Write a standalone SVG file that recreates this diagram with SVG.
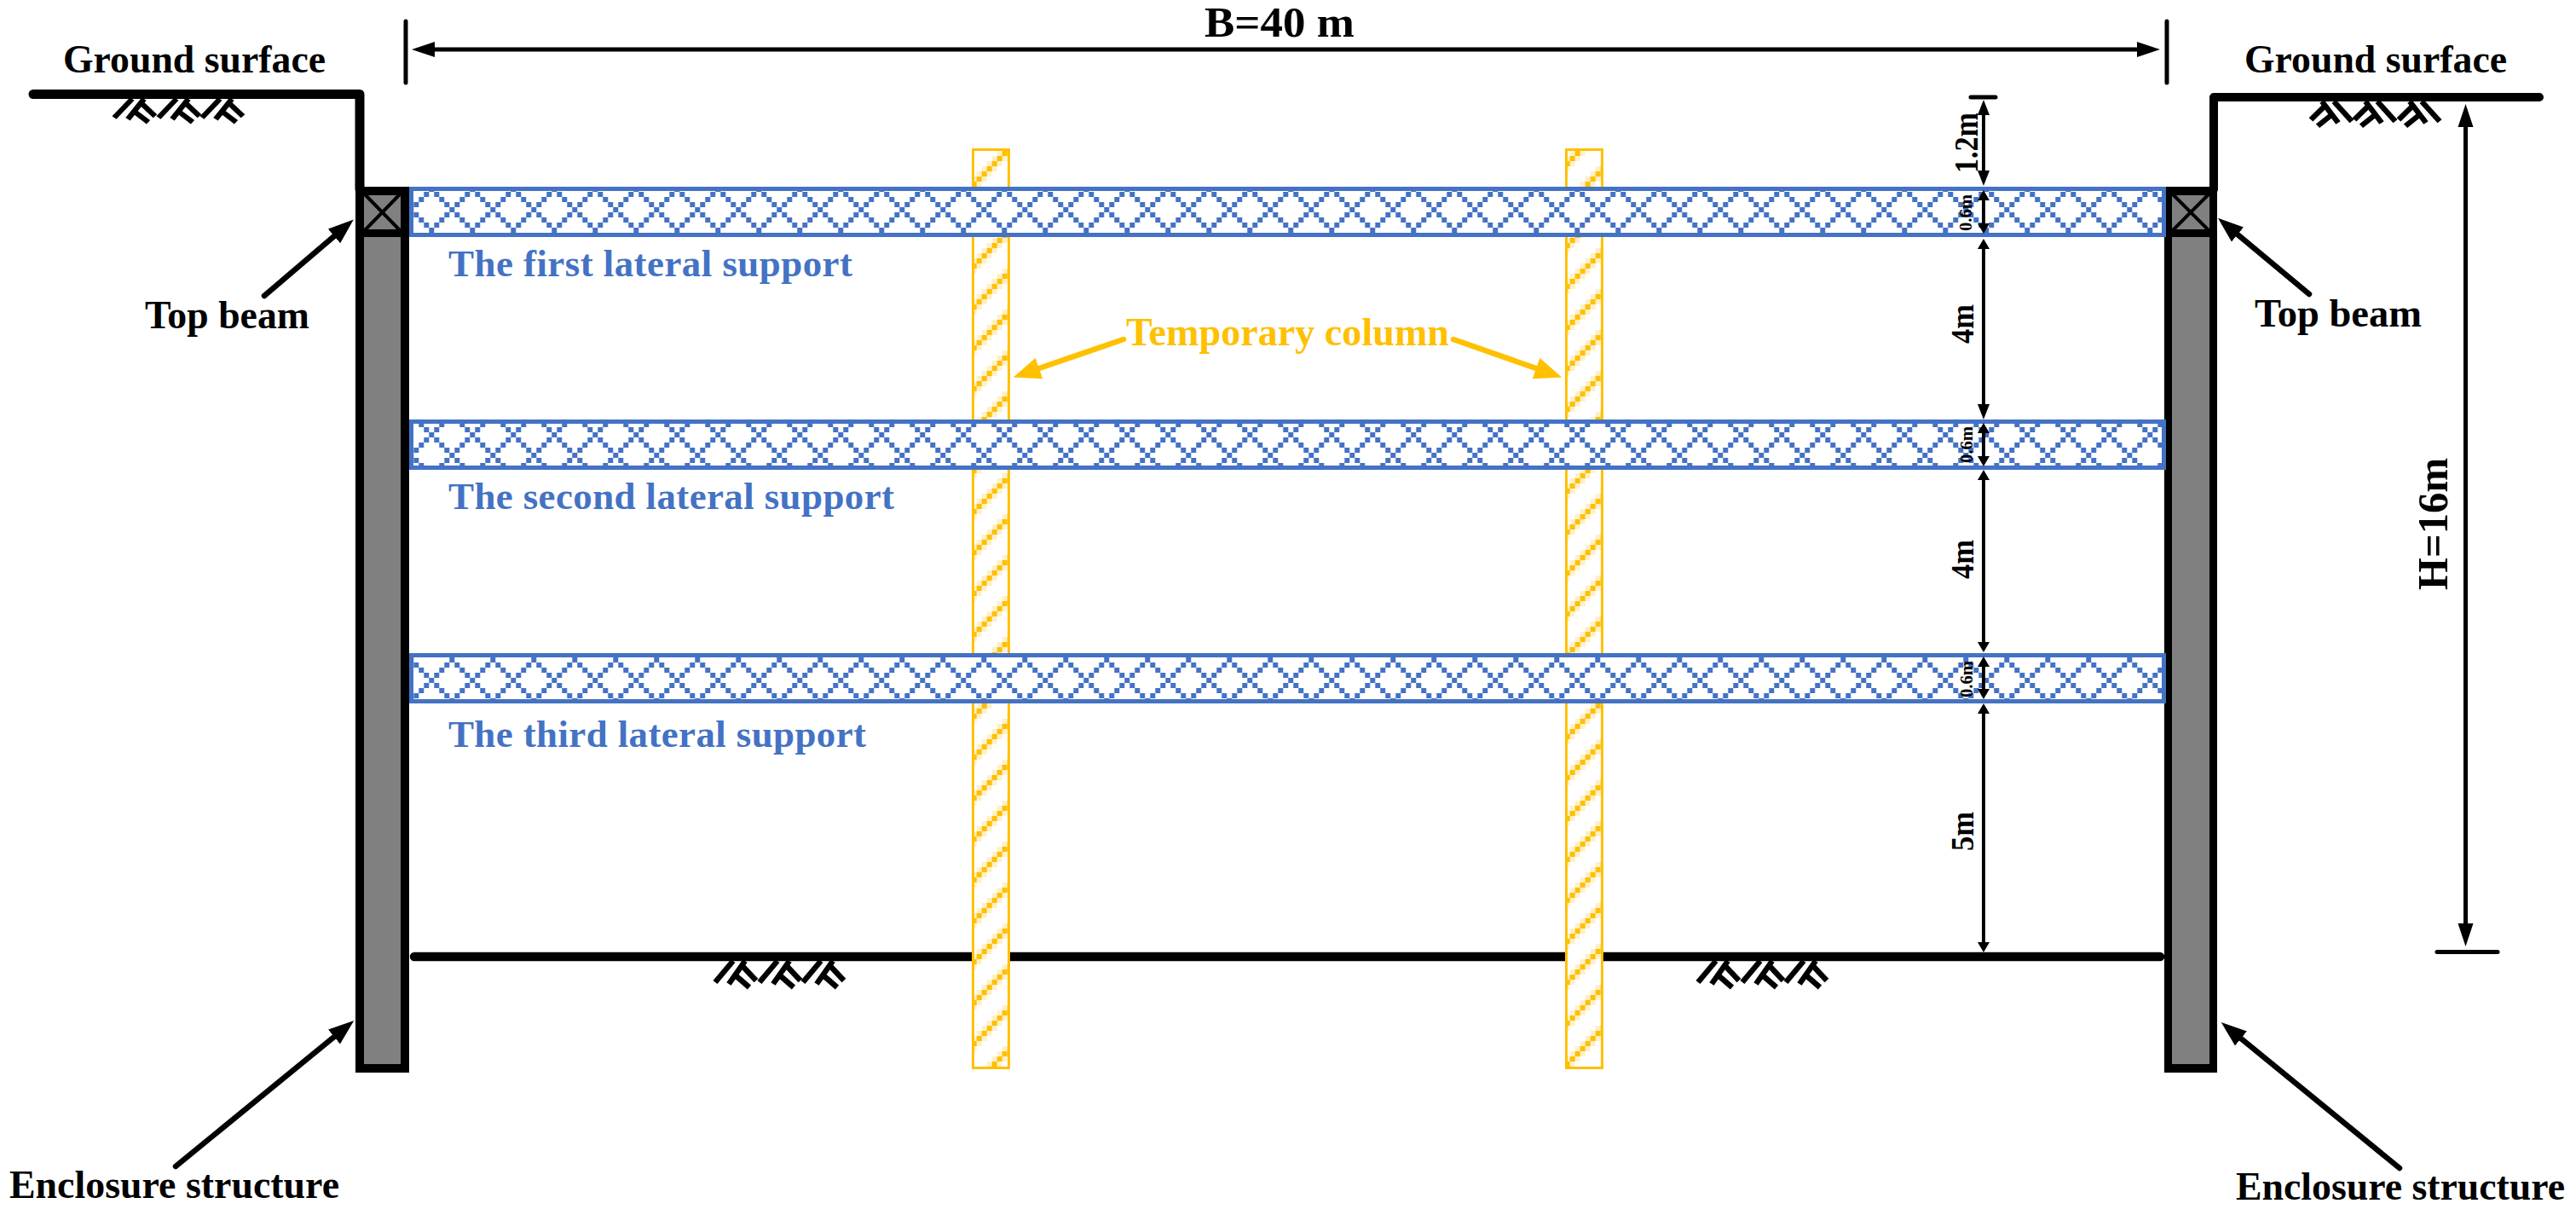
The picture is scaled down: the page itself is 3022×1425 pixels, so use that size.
<svg xmlns="http://www.w3.org/2000/svg" xmlns:xlink="http://www.w3.org/1999/xlink" width="3022" height="1425" viewBox="0 0 3022 1425">
<style>
text{font-family:"Liberation Serif","Times New Roman",serif;font-weight:700}
.lbl{font-size:46px;fill:#000}
.big{font-size:50px;fill:#000}
.blue{font-size:45px;fill:#4472C4}
.yel{font-size:46px;fill:#FFC000}
.d1{font-size:40px;fill:#000}
.d2{font-size:38px;fill:#000}
.d3{font-size:22px;fill:#000}
.wall{fill:#808080;stroke:none}
.blk{fill:#000;stroke:none}
.ground{fill:none;stroke:#000;stroke-linecap:round;stroke-linejoin:round}
.band{fill:url(#lattice)}
.band-edge{fill:none;stroke:#4472C4;stroke-width:5}
.col{fill:url(#stripe)}
.col-edge{fill:none;stroke:#FFC000;stroke-width:3}
.ln{stroke:#000;fill:none;stroke-linecap:round}
.dim{stroke-width:4;stroke-linecap:butt;marker-start:url(#mDim);marker-end:url(#mDim)}
.call{stroke-width:6.5;marker-end:url(#mCall)}
.ycall{stroke:#FFC000;fill:none;stroke-width:6.5;stroke-linecap:round;marker-end:url(#mYel)}
.hl{stroke:#000;stroke-width:6.5}
</style>
<defs>
<pattern id="lattice" patternUnits="userSpaceOnUse" width="48" height="48" patternTransform="translate(-0.7 3)">
<rect width="48" height="48" fill="#fff"/>
<path fill="#4472C4" shape-rendering="crispEdges" d="M0.4 0.4h5.2v5.2h-5.2zM6.4 6.4h5.2v5.2h-5.2zM12.4 12.4h5.2v5.2h-5.2zM18.4 18.4h5.2v5.2h-5.2zM24.4 24.4h5.2v5.2h-5.2zM30.4 30.4h5.2v5.2h-5.2zM36.4 36.4h5.2v5.2h-5.2zM42.4 42.4h5.2v5.2h-5.2zM6.4 42.4h5.2v5.2h-5.2zM12.4 36.4h5.2v5.2h-5.2zM18.4 30.4h5.2v5.2h-5.2zM30.4 18.4h5.2v5.2h-5.2zM36.4 12.4h5.2v5.2h-5.2zM42.4 6.4h5.2v5.2h-5.2z"/>
</pattern>
<pattern id="stripe" patternUnits="userSpaceOnUse" width="48" height="48" patternTransform="translate(11.7 3)">
<rect width="48" height="48" fill="#fff"/>
<path fill="#FFF0C8" shape-rendering="crispEdges" d="M0 36h6v6h-6zM6 30h6v6h-6zM12 24h6v6h-6zM18 18h6v6h-6zM24 12h6v6h-6zM30 6h6v6h-6zM36 0h6v6h-6zM42 42h6v6h-6zM0 0h6v6h-6zM6 42h6v6h-6zM12 36h6v6h-6zM18 30h6v6h-6zM24 24h6v6h-6zM30 18h6v6h-6zM36 12h6v6h-6zM42 6h6v6h-6z"/>
<path fill="#FFC000" shape-rendering="crispEdges" d="M0 42h6v6h-6zM6 36h6v6h-6zM12 30h6v6h-6zM18 24h6v6h-6zM24 18h6v6h-6zM30 12h6v6h-6zM36 6h6v6h-6zM42 0h6v6h-6z"/>
</pattern>
<marker id="mDim" markerUnits="userSpaceOnUse" markerWidth="19" markerHeight="15" refX="0" refY="7.5" orient="auto-start-reverse"><path d="M0 0.5L18 7.5L0 14.5z" fill="#000"/></marker>
<marker id="mSm" markerUnits="userSpaceOnUse" markerWidth="13" markerHeight="15" refX="0" refY="7.5" orient="auto-start-reverse"><path d="M0 0.5L12 7.5L0 14.5z" fill="#000"/></marker>
<marker id="mBig" markerUnits="userSpaceOnUse" markerWidth="28" markerHeight="19" refX="0" refY="9.5" orient="auto-start-reverse"><path d="M0 0.5L27 9.5L0 18.5z" fill="#000"/></marker>
<marker id="mCall" markerUnits="userSpaceOnUse" markerWidth="32" markerHeight="24" refX="0" refY="12" orient="auto"><path d="M0 1L30 12L0 23z" fill="#000"/></marker>
<marker id="mYel" markerUnits="userSpaceOnUse" markerWidth="34" markerHeight="28" refX="0" refY="14" orient="auto"><path d="M0 1L32 14L0 27z" fill="#FFC000"/></marker>
<g id="hatchUnit">
<line class="hl" x1="0" y1="0" x2="-21" y2="25"/><line class="hl" x1="14" y1="0" x2="-5" y2="27"/><line class="hl" x1="11" y1="6" x2="27" y2="23"/><line class="hl" x1="4" y1="18" x2="19" y2="31"/>
</g>
<g id="hatch">
<use xlink:href="#hatchUnit" href="#hatchUnit"/><use xlink:href="#hatchUnit" href="#hatchUnit" x="52"/><use xlink:href="#hatchUnit" href="#hatchUnit" x="103"/>
</g>
</defs>
<rect width="3022" height="1425" fill="#fff"/>

<g id="ground-left">
<path class="ground" stroke-width="11" d="M39 110.5H422V222"/>
<use xlink:href="#hatch" href="#hatch" transform="translate(155 116) scale(1 .88)"/>
<text class="lbl" x="74" y="85" textLength="308" lengthAdjust="spacingAndGlyphs">Ground surface</text>
</g>
<g id="ground-right">
<path class="ground" stroke-width="10" d="M2979 114H2597V222"/>
<use xlink:href="#hatch" href="#hatch" transform="translate(2841 119) scale(-1 .93)"/>
<text class="lbl" x="2633" y="85" textLength="308" lengthAdjust="spacingAndGlyphs">Ground surface</text>
</g>
<g id="excavation-floor">
<line class="ground" stroke-width="10.5" x1="486" y1="1122" x2="2534" y2="1122"/>
<use xlink:href="#hatch" href="#hatch" transform="translate(860 1127)"/>
<use xlink:href="#hatch" href="#hatch" transform="translate(2013 1127)"/>
</g>
<g id="wall-left">
<rect class="blk" x="417" y="219" width="63" height="1039"/>
<rect class="wall" x="427" y="278" width="43" height="970"/>
</g>
<g id="wall-right">
<rect class="blk" x="2539" y="219" width="62" height="1039"/>
<rect class="wall" x="2548" y="278" width="44" height="970"/>
</g>
<g id="top-beam-left">
<rect class="wall" x="427" y="229" width="43" height="40"/>
<path class="ln" stroke-width="4" stroke-linecap="butt" d="M429 229L468 269M468 229L429 269"/>
<text class="lbl" x="170" y="385" textLength="193" lengthAdjust="spacingAndGlyphs">Top beam</text>
</g>
<g id="top-beam-right">
<rect class="wall" x="2548" y="229" width="44" height="40"/>
<path class="ln" stroke-width="4" stroke-linecap="butt" d="M2550 229L2590 269M2590 229L2550 269"/>
<text class="lbl" x="2645" y="383" textLength="196" lengthAdjust="spacingAndGlyphs">Top beam</text>
</g>
<g id="column-1">
<rect class="col" x="1141.5" y="175.5" width="42" height="1077"/>
<rect class="col-edge" x="1141.5" y="175.5" width="42" height="1077"/>
</g>
<g id="column-2">
<rect class="col" x="1837.5" y="175.5" width="42" height="1077"/>
<rect class="col-edge" x="1837.5" y="175.5" width="42" height="1077"/>
</g>
<g id="support-1">
<rect class="band" x="482.5" y="221.5" width="2056" height="54"/>
<rect class="band-edge" x="482.5" y="221.5" width="2056" height="54"/>
<text class="blue" x="526" y="324" textLength="474" lengthAdjust="spacing">The first lateral support</text>
</g>
<g id="support-2">
<rect class="band" x="482.5" y="494.5" width="2056" height="54"/>
<rect class="band-edge" x="482.5" y="494.5" width="2056" height="54"/>
<text class="blue" x="526" y="597" textLength="523" lengthAdjust="spacing">The second lateral support</text>
</g>
<g id="support-3">
<rect class="band" x="482.5" y="768.5" width="2056" height="54"/>
<rect class="band-edge" x="482.5" y="768.5" width="2056" height="54"/>
<text class="blue" x="526" y="876" textLength="490" lengthAdjust="spacing">The third lateral support</text>
</g>
<g id="temporary-column-label">
<text class="yel" x="1321" y="405" textLength="379" lengthAdjust="spacingAndGlyphs">Temporary column</text>
</g>
<g id="enclosure-left"><text class="lbl" x="11" y="1405" textLength="387" lengthAdjust="spacingAndGlyphs">Enclosure structure</text></g>
<g id="enclosure-right"><text class="lbl" x="2623" y="1407" textLength="386" lengthAdjust="spacingAndGlyphs">Enclosure structure</text></g>

<g id="connectors">
<line class="ln" stroke-width="5" x1="476" y1="25" x2="476" y2="97"/>
<line class="ln" stroke-width="5" x1="2542" y1="25" x2="2542" y2="97"/>
<line class="ln" stroke-width="5" stroke-linecap="butt" marker-start="url(#mBig)" marker-end="url(#mBig)" x1="510" y1="58" x2="2507" y2="58"/>
<line class="ln" stroke-width="5" x1="2312" y1="114" x2="2341" y2="114"/>
<line class="ln dim" x1="2327" y1="135" x2="2327" y2="200"/>
<line class="ln dim" style="marker-start:url(#mSm);marker-end:url(#mSm)" x1="2327" y1="235" x2="2327" y2="262"/>
<line class="ln dim" style="marker-start:url(#mSm);marker-end:url(#mDim)" x1="2327" y1="292" x2="2327" y2="474"/>
<line class="ln dim" style="marker-start:url(#mSm);marker-end:url(#mSm)" x1="2327" y1="508" x2="2327" y2="535"/>
<line class="ln dim" style="marker-start:url(#mSm);marker-end:url(#mSm)" x1="2327" y1="563" x2="2327" y2="753"/>
<line class="ln dim" style="marker-start:url(#mSm);marker-end:url(#mSm)" x1="2327" y1="782" x2="2327" y2="808"/>
<line class="ln dim" style="marker-start:url(#mSm);marker-end:url(#mSm)" x1="2327" y1="837" x2="2327" y2="1105"/>
<line class="ln" stroke-width="5" stroke-linecap="butt" marker-start="url(#mBig)" marker-end="url(#mBig)" x1="2892.5" y1="149" x2="2892.5" y2="1083"/>
<line class="ln" stroke-width="5" x1="2859" y1="1116.5" x2="2930" y2="1116.5"/>
<line class="ln call" x1="310" y1="347" x2="392" y2="277"/>
<line class="ln call" x1="2709" y1="345" x2="2625" y2="275"/>
<line class="ln call" x1="206" y1="1368" x2="392" y2="1216"/>
<line class="ln call" x1="2815" y1="1370" x2="2629" y2="1218"/>
<line class="ycall" x1="1318" y1="398" x2="1219" y2="432"/>
<line class="ycall" x1="1705" y1="398" x2="1802" y2="432"/>
</g>
<g id="dimension-labels">
<text class="d1" transform="translate(2320 203) rotate(-90)" textLength="71" lengthAdjust="spacingAndGlyphs">1.2m</text>
<text class="d3" transform="translate(2313 271) rotate(-90)" textLength="43" lengthAdjust="spacingAndGlyphs">0.6m</text>
<text class="d2" transform="translate(2315 403) rotate(-90)" textLength="46" lengthAdjust="spacingAndGlyphs">4m</text>
<text class="d3" transform="translate(2314 543) rotate(-90)" textLength="43" lengthAdjust="spacingAndGlyphs">0.6m</text>
<text class="d2" transform="translate(2315 679) rotate(-90)" textLength="46" lengthAdjust="spacingAndGlyphs">4m</text>
<text class="d3" transform="translate(2314 818) rotate(-90)" textLength="43" lengthAdjust="spacingAndGlyphs">0.6m</text>
<text class="d2" transform="translate(2315 998) rotate(-90)" textLength="46" lengthAdjust="spacingAndGlyphs">5m</text>
<text class="big" transform="translate(2871 692) rotate(-90)" textLength="155" lengthAdjust="spacingAndGlyphs">H=16m</text>
<text class="big" x="1413" y="43" textLength="176" lengthAdjust="spacingAndGlyphs">B=40 m</text>
</g>
</svg>
